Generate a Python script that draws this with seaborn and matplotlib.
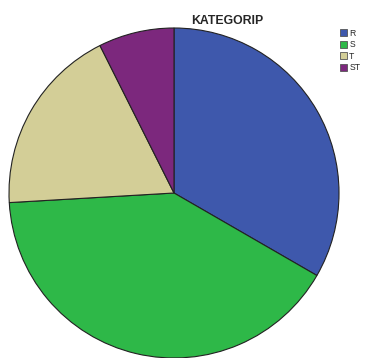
import matplotlib
matplotlib.use("Agg")
import matplotlib.pyplot as plt
from matplotlib.patches import Patch
import seaborn as sns

categories = ["R", "S", "T", "ST"]
counts = [9, 11, 5, 2]
colors = ["#3e58ac", "#2eb848", "#d3ce97", "#7c287d"]
title = "KATEGORIP"

sns.set_theme(style="white")
plt.rcParams["font.family"] = ["Liberation Sans", "DejaVu Sans"]

W, H = 373, 358
fig = plt.figure(figsize=(W / 100, H / 100), dpi=100)
fig.patch.set_facecolor("white")

cx, cy, r = 174, 193, 165
ax = fig.add_axes([(cx - r) / W, 1 - (cy + r) / H, 2 * r / W, 2 * r / H])
ax.pie(counts, colors=colors, startangle=90, counterclock=False,
       wedgeprops=dict(edgecolor="#222222", linewidth=0.8))
ax.set_xlim(-1, 1)
ax.set_ylim(-1, 1)
ax.set_aspect("auto")
ax.axis("off")

fig.text(227 / W, 1 - 21 / H, title, ha="center", va="center",
         fontsize=8.8, fontweight="bold")

handles = [Patch(facecolor=c, edgecolor="#555555", linewidth=0.6) for c in colors]
leg = fig.legend(handles, categories, loc="upper left",
                 bbox_to_anchor=(338 / W, 1 - 27 / H), fontsize=6.2,
                 frameon=False, handlelength=0.85, handleheight=0.85,
                 handletextpad=0.25, labelspacing=0.3, borderpad=0.2,
                 borderaxespad=0)

fig.savefig("out.png", dpi=100)
